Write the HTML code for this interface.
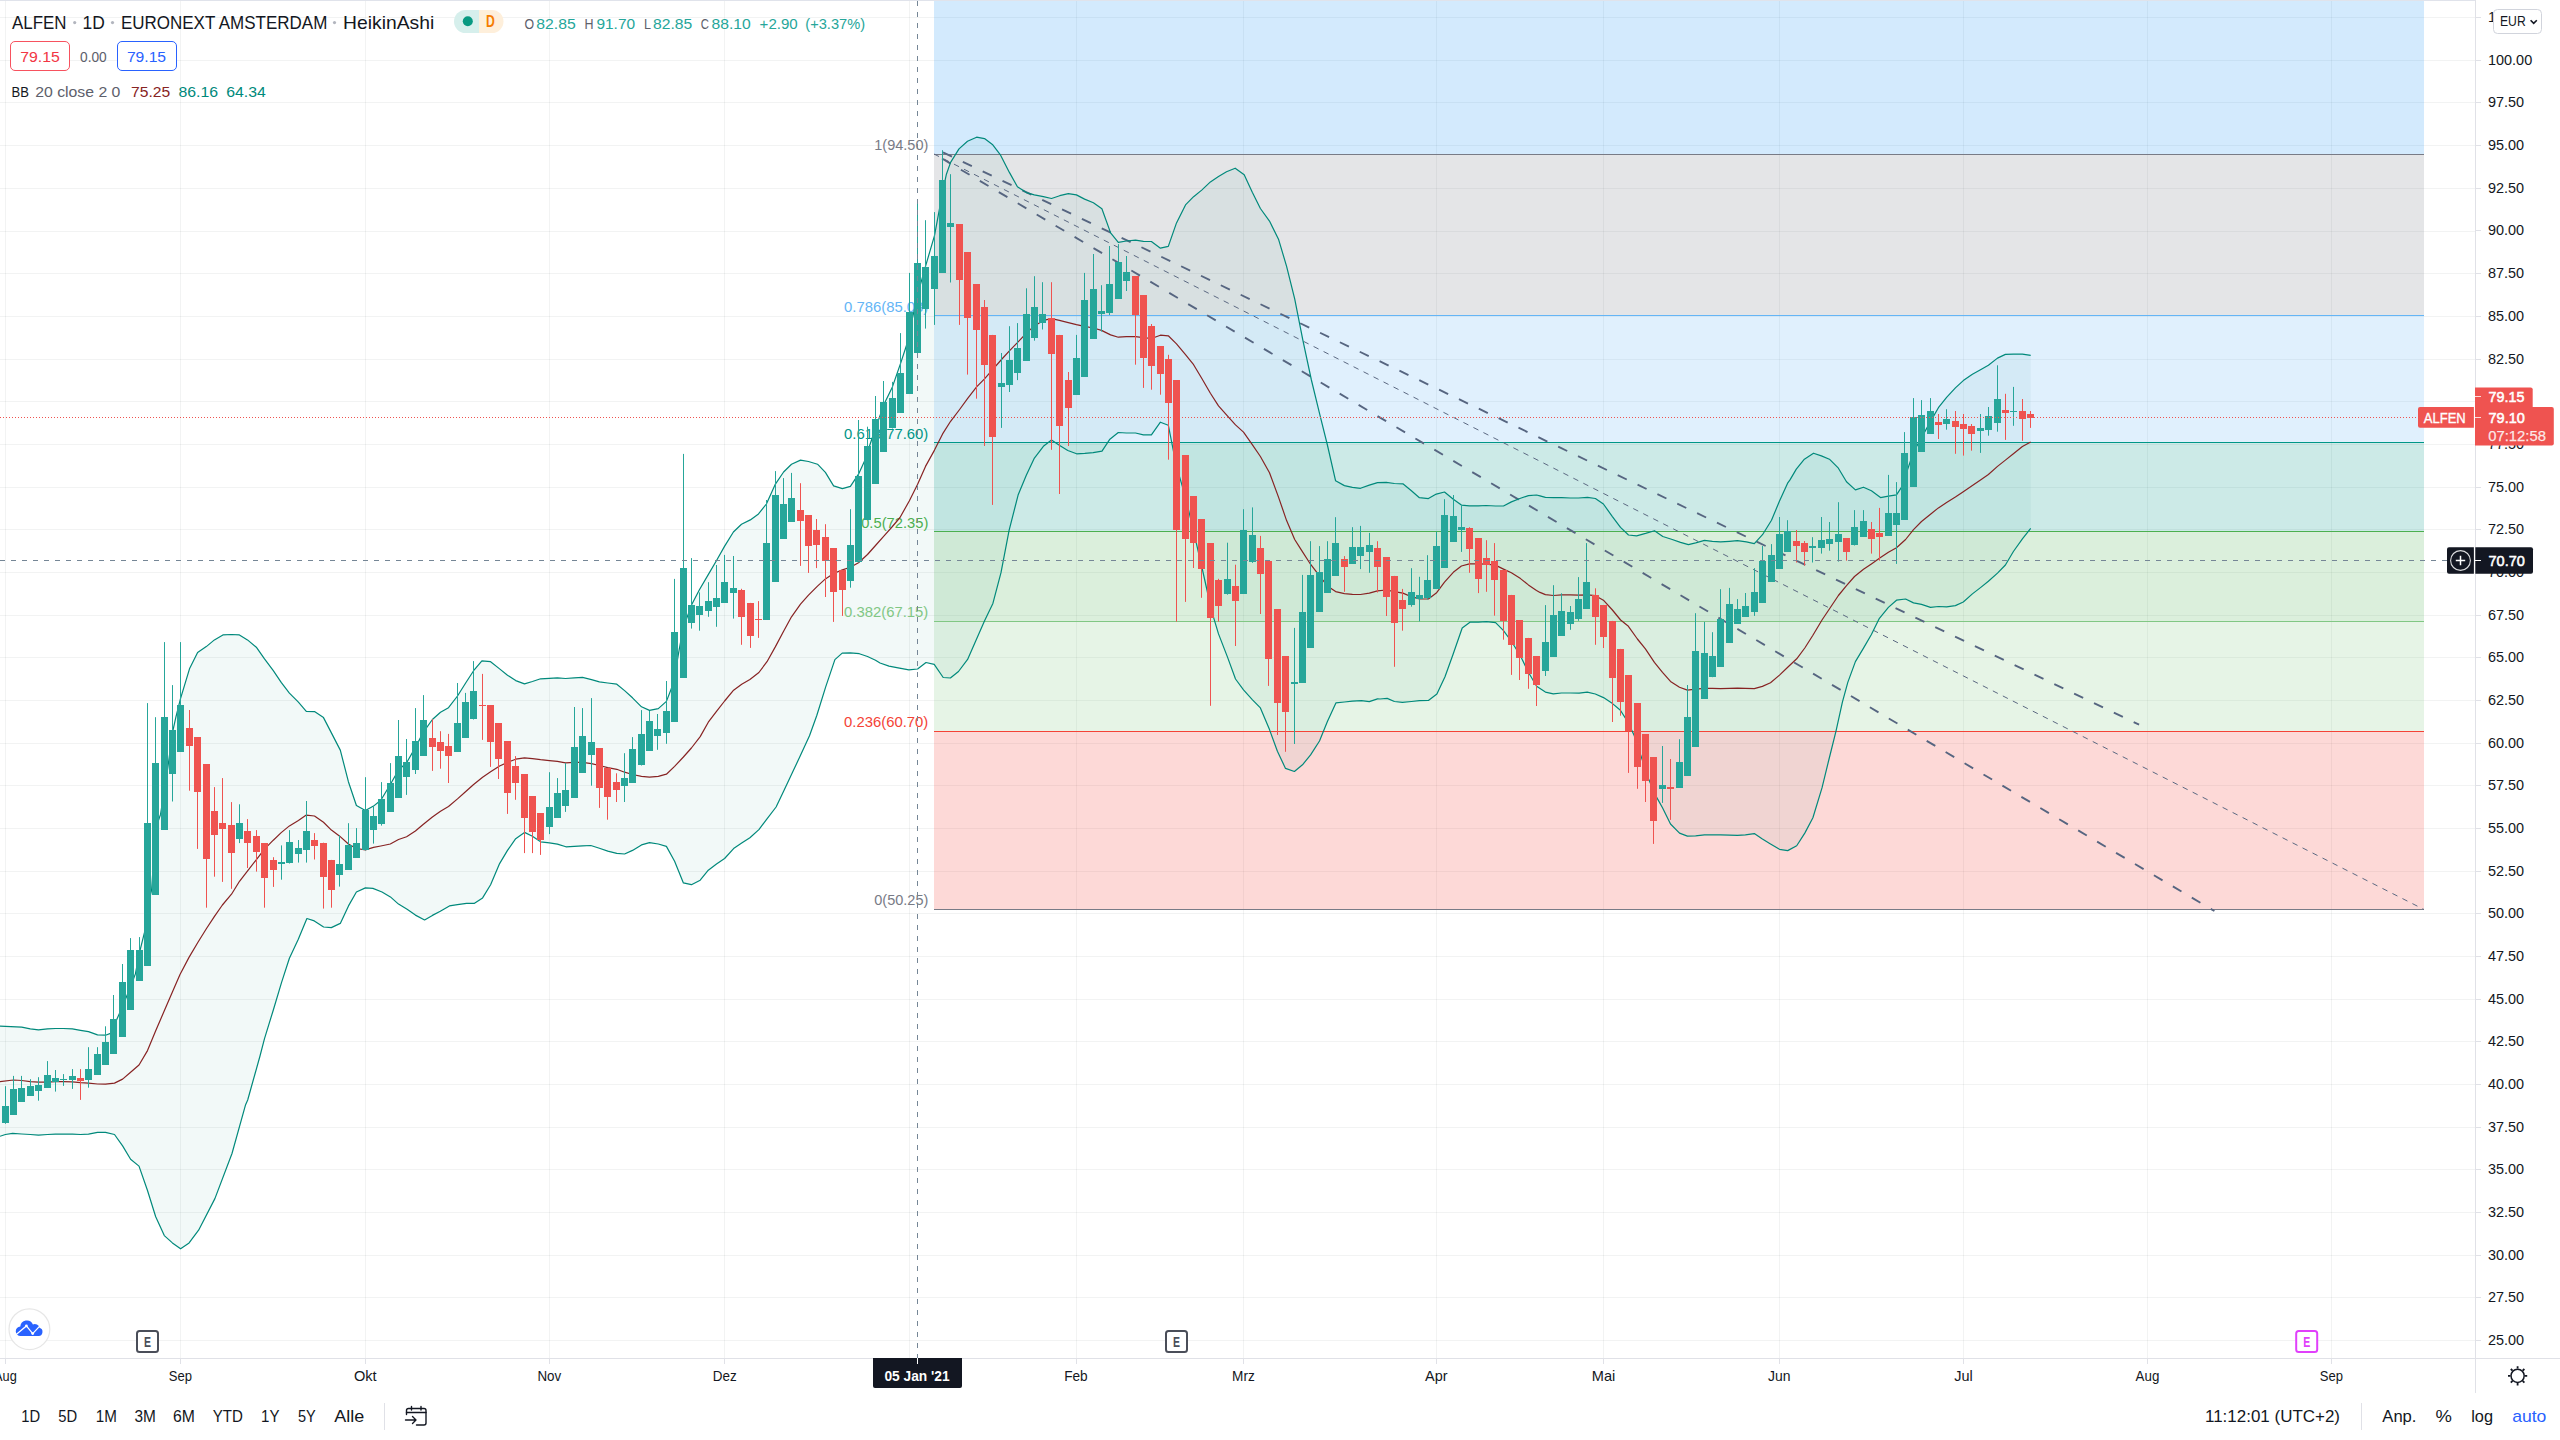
<!DOCTYPE html>
<html><head><meta charset="utf-8"><title>ALFEN</title>
<style>html,body{margin:0;padding:0;background:#fff;overflow:hidden}svg{display:block}</style></head>
<body>
<svg width="2560" height="1440" viewBox="0 0 2560 1440" font-family="Liberation Sans, sans-serif">
<defs><clipPath id="pane"><rect x="0" y="0" width="2475" height="1358"/></clipPath></defs>
<rect width="2560" height="1440" fill="#fff"/>
<g clip-path="url(#pane)">
<path d="M5.5,0V1358 M180.5,0V1358 M365.5,0V1358 M549.5,0V1358 M724.5,0V1358 M909.5,0V1358 M1076.5,0V1358 M1243.5,0V1358 M1436.5,0V1358 M1603.5,0V1358 M1779.5,0V1358 M1963.5,0V1358 M2147.5,0V1358 M2331.5,0V1358" stroke="#2a2e39" stroke-opacity="0.06" stroke-width="1" fill="none"/>
<path d="M0,17.5H2475 M0,60.5H2475 M0,102.5H2475 M0,145.5H2475 M0,188.5H2475 M0,231.5H2475 M0,273.5H2475 M0,316.5H2475 M0,359.5H2475 M0,401.5H2475 M0,444.5H2475 M0,487.5H2475 M0,529.5H2475 M0,572.5H2475 M0,615.5H2475 M0,657.5H2475 M0,700.5H2475 M0,743.5H2475 M0,785.5H2475 M0,828.5H2475 M0,871.5H2475 M0,913.5H2475 M0,956.5H2475 M0,999.5H2475 M0,1041.5H2475 M0,1084.5H2475 M0,1127.5H2475 M0,1169.5H2475 M0,1212.5H2475 M0,1255.5H2475 M0,1297.5H2475 M0,1340.5H2475 M0,1383.5H2475" stroke="#2a2e39" stroke-opacity="0.06" stroke-width="1" fill="none"/>
<rect x="934" y="0.0" width="1490" height="154.5" fill="#2196f3" fill-opacity="0.2"/>
<rect x="934" y="154.5" width="1490" height="161.0" fill="#787b86" fill-opacity="0.2"/>
<rect x="934" y="315.5" width="1490" height="127.0" fill="#64b5f6" fill-opacity="0.2"/>
<rect x="934" y="442.5" width="1490" height="89.0" fill="#009688" fill-opacity="0.2"/>
<rect x="934" y="531.5" width="1490" height="90.0" fill="#4caf50" fill-opacity="0.2"/>
<rect x="934" y="621.5" width="1490" height="110.0" fill="#81c784" fill-opacity="0.2"/>
<rect x="934" y="731.5" width="1490" height="178.0" fill="#f44336" fill-opacity="0.2"/>
<path d="M0.0,1026.2 L10.8,1026.7 L21.7,1027.1 L30.3,1028.9 L38.5,1029.8 L47.5,1028.9 L55.4,1028.5 L63.4,1028.5 L72.4,1028.9 L80.5,1030.3 L88.5,1031.6 L97.5,1034.9 L105.5,1035.2 L110.5,1033.4 L114.5,1024.5 L122.6,1006.4 L130.6,986.5 L135.4,973.9 L139.6,952.2 L144.5,932.4 L147.5,907.1 L151.6,890.0 L155.6,828.6 L160.6,814.2 L167.9,767.2 L172.4,732.9 L176.0,716.7 L180.5,698.6 L189.5,668.8 L197.6,652.6 L206.3,646.6 L214.4,639.9 L222.9,634.9 L231.4,634.5 L239.4,634.9 L247.5,639.9 L256.3,647.2 L264.5,658.9 L273.3,670.6 L281.2,682.4 L289.4,693.2 L298.4,702.2 L306.3,711.3 L314.5,711.6 L323.5,717.6 L331.4,732.9 L340.3,750.1 L348.4,781.7 L356.4,805.5 L365.4,810.6 L373.5,806.1 L380.8,800.2 L390.3,784.5 L398.5,770.0 L406.6,762.8 L415.4,747.4 L423.4,732.1 L432.4,719.5 L440.5,712.2 L448.5,707.7 L457.5,696.0 L465.5,683.3 L473.6,670.7 L481.9,660.8 L490.6,661.7 L499.6,668.9 L507.5,675.2 L515.7,680.6 L524.5,683.9 L532.4,681.5 L540.6,678.8 L549.4,678.3 L557.4,677.9 L565.5,678.5 L574.3,677.9 L582.5,677.4 L591.5,679.7 L599.4,681.9 L607.8,683.0 L616.8,684.2 L624.6,690.6 L632.5,697.8 L641.5,706.8 L649.5,710.4 L658.3,708.6 L666.4,701.4 L671.3,688.8 L674.6,676.1 L679.1,650.1 L683.3,627.7 L691.5,605.1 L699.4,589.7 L708.4,574.4 L716.4,560.8 L724.5,546.4 L733.4,532.0 L741.5,524.2 L750.3,519.9 L758.5,513.9 L766.4,504.0 L775.4,484.1 L783.6,472.0 L791.5,464.2 L800.5,460.1 L808.5,461.5 L817.5,464.2 L825.4,472.4 L833.6,485.9 L842.4,488.6 L850.4,486.4 L858.5,474.2 L864.8,460.6 L867.5,452.0 L875.4,428.5 L884.5,403.2 L892.4,386.9 L900.5,363.6 L906.7,344.7 L917.5,295.2 L925.5,266.3 L934.5,235.6 L942.6,192.2 L946.4,174.2 L950.6,162.4 L959.0,148.9 L967.5,141.3 L976.6,137.2 L984.5,138.6 L992.4,144.4 L1000.6,155.2 L1009.4,172.4 L1017.4,186.8 L1026.4,192.6 L1034.3,194.9 L1043.4,196.7 L1051.5,198.5 L1059.7,195.7 L1068.3,193.7 L1076.4,194.9 L1084.6,199.1 L1093.4,202.7 L1101.9,208.8 L1110.6,232.9 L1118.3,242.4 L1126.4,241.0 L1135.5,240.1 L1143.4,241.3 L1151.4,241.5 L1160.4,248.2 L1168.3,246.4 L1176.5,222.9 L1185.5,204.9 L1193.6,196.7 L1201.7,190.1 L1210.4,181.9 L1218.5,176.5 L1226.5,171.8 L1235.2,168.2 L1244.2,174.7 L1252.3,192.2 L1260.4,208.5 L1269.5,221.1 L1278.5,239.2 L1286.6,266.3 L1294.7,298.8 L1302.9,340.3 L1311.4,380.0 L1319.7,414.2 L1327.4,445.0 L1335.6,480.8 L1344.4,485.6 L1352.4,487.4 L1360.5,488.3 L1369.3,485.1 L1377.5,482.6 L1386.3,482.4 L1394.4,483.5 L1402.9,483.8 L1411.4,490.7 L1419.4,497.7 L1428.4,498.6 L1436.3,494.1 L1444.5,492.0 L1453.3,499.2 L1461.4,505.1 L1469.4,505.9 L1478.4,505.9 L1486.3,505.5 L1495.4,506.0 L1503.5,506.0 L1511.4,501.9 L1520.5,498.3 L1528.4,495.6 L1536.5,495.0 L1540.0,495.8 L1545.4,497.3 L1553.5,497.6 L1561.7,497.6 L1570.3,498.0 L1578.5,498.0 L1587.5,497.3 L1595.4,498.5 L1603.4,504.0 L1612.4,516.6 L1620.5,527.4 L1628.5,535.0 L1636.6,535.9 L1645.6,533.4 L1654.5,530.7 L1662.8,536.5 L1671.5,539.2 L1680.5,542.4 L1688.4,544.6 L1695.7,542.8 L1704.5,540.4 L1712.4,541.3 L1720.6,541.9 L1729.4,541.3 L1737.4,540.6 L1746.4,541.9 L1754.3,543.7 L1762.5,534.7 L1771.5,520.2 L1779.4,501.3 L1787.6,483.2 L1790.0,479.9 L1796.3,469.1 L1804.4,459.2 L1813.5,453.2 L1821.4,455.9 L1829.4,459.2 L1838.4,468.2 L1846.5,481.7 L1855.4,489.9 L1863.5,487.2 L1871.4,490.8 L1880.5,497.6 L1888.4,496.2 L1896.5,494.9 L1901.6,487.2 L1905.6,475.4 L1913.5,452.0 L1923.6,433.9 L1932.7,417.6 L1938.4,407.7 L1946.6,397.4 L1955.4,387.9 L1963.3,380.6 L1972.4,374.3 L1980.5,369.8 L1988.4,365.3 L1997.5,358.1 L2005.4,354.4 L2013.4,354.1 L2022.4,354.1 L2030.7,355.3 L2030.7,528.3 L2022.4,538.8 L2013.4,551.5 L2005.4,565.0 L1997.5,573.1 L1988.4,581.3 L1980.5,587.6 L1972.4,593.9 L1963.3,602.0 L1955.4,605.6 L1946.6,606.9 L1938.4,606.5 L1930.5,607.4 L1921.5,604.4 L1913.5,602.9 L1905.6,599.0 L1896.5,600.2 L1888.4,607.4 L1879.4,618.3 L1871.4,634.5 L1863.5,648.1 L1855.4,661.6 L1847.8,682.4 L1842.4,702.2 L1836.0,731.1 L1828.8,760.0 L1822.0,787.9 L1812.9,817.7 L1804.8,833.1 L1796.7,845.7 L1787.7,850.6 L1779.5,849.3 L1770.5,843.9 L1762.4,839.0 L1754.3,833.6 L1745.4,834.9 L1737.5,835.4 L1729.5,835.2 L1720.5,834.9 L1712.4,834.9 L1704.4,834.9 L1695.6,835.8 L1687.4,836.1 L1679.5,833.1 L1670.5,824.0 L1662.5,807.8 L1658.5,800.6 L1654.4,793.3 L1648.6,778.9 L1641.4,757.2 L1634.2,735.6 L1628.4,722.9 L1620.4,710.3 L1612.5,703.6 L1603.5,697.6 L1595.3,694.0 L1587.2,692.2 L1579.2,693.2 L1570.5,693.0 L1561.5,693.0 L1553.3,693.9 L1545.4,692.1 L1536.6,686.3 L1528.4,672.2 L1520.5,656.0 L1511.5,641.5 L1503.5,630.7 L1495.6,622.6 L1486.5,621.7 L1478.4,622.2 L1470.3,622.0 L1462.2,628.0 L1453.1,654.2 L1445.0,676.7 L1436.9,693.9 L1428.4,700.4 L1419.4,700.6 L1411.4,701.5 L1402.4,702.4 L1394.4,701.5 L1387.2,698.4 L1380.0,699.0 L1377.5,698.9 L1369.3,701.6 L1361.4,700.7 L1352.4,701.2 L1344.4,702.0 L1335.9,702.9 L1327.4,721.5 L1319.5,741.0 L1310.6,754.9 L1302.5,764.8 L1294.4,771.5 L1285.5,768.4 L1277.4,751.3 L1269.5,729.6 L1260.4,707.9 L1252.5,699.8 L1243.5,689.9 L1235.5,679.0 L1227.6,657.4 L1218.5,633.9 L1210.4,606.8 L1207.2,591.0 L1202.5,570.0 L1193.6,531.4 L1185.5,497.1 L1176.5,466.4 L1172.9,448.3 L1168.3,425.2 L1160.4,422.2 L1151.4,434.8 L1143.4,434.8 L1135.5,433.0 L1126.4,433.0 L1118.3,432.5 L1109.9,439.2 L1102.0,451.1 L1093.2,452.6 L1084.8,453.4 L1076.6,453.8 L1067.8,450.5 L1059.7,445.4 L1051.5,440.0 L1043.4,446.3 L1034.4,458.1 L1026.3,475.2 L1018.1,495.1 L1009.1,530.3 L1001.0,572.7 L992.9,603.4 L984.7,620.6 L975.7,641.0 L967.6,659.4 L958.5,671.5 L950.4,678.0 L943.2,677.5 L934.2,664.3 L926.0,662.5 L917.6,669.0 L908.9,669.9 L898.1,667.9 L889.0,666.1 L880.0,663.0 L875.5,660.2 L867.5,656.5 L859.3,653.7 L850.2,652.8 L842.2,653.1 L834.9,659.6 L825.7,686.9 L816.7,715.8 L809.5,735.7 L800.4,755.6 L792.3,772.7 L784.2,789.9 L776.1,807.0 L767.0,818.8 L758.9,829.6 L749.9,837.7 L741.7,843.1 L733.6,848.6 L724.6,858.5 L716.5,863.9 L708.3,870.2 L700.2,880.2 L691.4,884.7 L683.4,882.9 L674.6,861.2 L666.4,846.4 L658.3,844.0 L649.5,842.6 L641.5,844.9 L632.5,850.4 L624.6,854.0 L616.8,853.4 L607.8,851.1 L599.4,848.3 L590.8,845.5 L582.5,845.9 L574.3,846.3 L565.9,846.8 L557.4,844.1 L549.4,842.8 L540.6,841.8 L532.4,836.3 L524.5,832.4 L515.7,838.7 L507.5,850.4 L499.6,863.6 L490.6,884.7 L482.6,897.9 L474.5,903.3 L466.5,903.3 L457.5,904.6 L449.4,905.9 L440.3,911.3 L432.4,915.4 L424.6,920.0 L415.4,915.1 L407.1,909.3 L398.5,904.1 L390.4,896.9 L382.0,892.0 L372.9,888.4 L365.4,887.9 L356.4,892.0 L348.5,905.9 L340.3,923.4 L331.3,927.6 L323.6,927.0 L314.3,920.9 L306.9,918.5 L298.3,939.3 L289.4,958.3 L281.5,982.7 L273.4,1009.7 L264.5,1038.6 L260.0,1056.0 L247.7,1100.0 L245.6,1104.7 L232.0,1153.5 L214.9,1198.6 L198.6,1230.2 L189.1,1242.9 L180.6,1248.8 L172.4,1242.9 L164.3,1235.6 L155.7,1216.7 L147.5,1190.5 L139.0,1166.1 L130.6,1159.3 L122.6,1145.9 L114.5,1134.5 L105.5,1132.4 L97.5,1132.4 L88.5,1134.2 L80.5,1134.5 L72.4,1134.2 L63.4,1134.0 L55.4,1134.2 L47.5,1134.5 L38.5,1135.1 L30.3,1134.5 L21.7,1134.0 L12.6,1133.3 L5.4,1134.5 L0.0,1136.3Z" fill="#00897b" fill-opacity="0.05" stroke="none"/>
<path d="M934,154.5H2424" stroke="#787b86" stroke-width="1"/>
<path d="M934,315.5H2424" stroke="#64b5f6" stroke-width="1"/>
<path d="M934,442.5H2424" stroke="#009688" stroke-width="1"/>
<path d="M934,531.5H2424" stroke="#4caf50" stroke-width="1"/>
<path d="M934,621.5H2424" stroke="#81c784" stroke-width="1"/>
<path d="M934,731.5H2424" stroke="#f44336" stroke-width="1"/>
<path d="M934,909.5H2424" stroke="#787b86" stroke-width="1"/>
<text x="874.3" y="150.1" font-size="14.6" fill="#787b86" textLength="54.0" lengthAdjust="spacingAndGlyphs">1(94.50)</text>
<text x="844.0" y="311.7" font-size="14.6" fill="#64b5f6" textLength="84.3" lengthAdjust="spacingAndGlyphs">0.786(85.03)</text>
<text x="844.0" y="438.6" font-size="14.6" fill="#009688" textLength="84.3" lengthAdjust="spacingAndGlyphs">0.618(77.60)</text>
<text x="861.2" y="528.2" font-size="14.6" fill="#4caf50" textLength="67.1" lengthAdjust="spacingAndGlyphs">0.5(72.35)</text>
<text x="844.0" y="616.9" font-size="14.6" fill="#81c784" textLength="84.3" lengthAdjust="spacingAndGlyphs">0.382(67.15)</text>
<text x="844.0" y="727.1" font-size="14.6" fill="#f44336" textLength="84.3" lengthAdjust="spacingAndGlyphs">0.236(60.70)</text>
<text x="874.3" y="905.4" font-size="14.6" fill="#787b86" textLength="54.0" lengthAdjust="spacingAndGlyphs">0(50.25)</text>
<path d="M943,152.3 L2139.1,724.7" stroke="#566580" stroke-width="1.9" stroke-dasharray="10 12" fill="none"/>
<path d="M942,158.5 L2214.4,911" stroke="#566580" stroke-width="1.9" stroke-dasharray="10 12" fill="none"/>
<path d="M934,154 L2424,909.5" stroke="#5c6982" stroke-width="1" stroke-dasharray="5.6 5.6" fill="none"/>
<path d="M0.0,1026.2 L10.8,1026.7 L21.7,1027.1 L30.3,1028.9 L38.5,1029.8 L47.5,1028.9 L55.4,1028.5 L63.4,1028.5 L72.4,1028.9 L80.5,1030.3 L88.5,1031.6 L97.5,1034.9 L105.5,1035.2 L110.5,1033.4 L114.5,1024.5 L122.6,1006.4 L130.6,986.5 L135.4,973.9 L139.6,952.2 L144.5,932.4 L147.5,907.1 L151.6,890.0 L155.6,828.6 L160.6,814.2 L167.9,767.2 L172.4,732.9 L176.0,716.7 L180.5,698.6 L189.5,668.8 L197.6,652.6 L206.3,646.6 L214.4,639.9 L222.9,634.9 L231.4,634.5 L239.4,634.9 L247.5,639.9 L256.3,647.2 L264.5,658.9 L273.3,670.6 L281.2,682.4 L289.4,693.2 L298.4,702.2 L306.3,711.3 L314.5,711.6 L323.5,717.6 L331.4,732.9 L340.3,750.1 L348.4,781.7 L356.4,805.5 L365.4,810.6 L373.5,806.1 L380.8,800.2 L390.3,784.5 L398.5,770.0 L406.6,762.8 L415.4,747.4 L423.4,732.1 L432.4,719.5 L440.5,712.2 L448.5,707.7 L457.5,696.0 L465.5,683.3 L473.6,670.7 L481.9,660.8 L490.6,661.7 L499.6,668.9 L507.5,675.2 L515.7,680.6 L524.5,683.9 L532.4,681.5 L540.6,678.8 L549.4,678.3 L557.4,677.9 L565.5,678.5 L574.3,677.9 L582.5,677.4 L591.5,679.7 L599.4,681.9 L607.8,683.0 L616.8,684.2 L624.6,690.6 L632.5,697.8 L641.5,706.8 L649.5,710.4 L658.3,708.6 L666.4,701.4 L671.3,688.8 L674.6,676.1 L679.1,650.1 L683.3,627.7 L691.5,605.1 L699.4,589.7 L708.4,574.4 L716.4,560.8 L724.5,546.4 L733.4,532.0 L741.5,524.2 L750.3,519.9 L758.5,513.9 L766.4,504.0 L775.4,484.1 L783.6,472.0 L791.5,464.2 L800.5,460.1 L808.5,461.5 L817.5,464.2 L825.4,472.4 L833.6,485.9 L842.4,488.6 L850.4,486.4 L858.5,474.2 L864.8,460.6 L867.5,452.0 L875.4,428.5 L884.5,403.2 L892.4,386.9 L900.5,363.6 L906.7,344.7 L917.5,295.2 L925.5,266.3 L934.5,235.6 L942.6,192.2 L946.4,174.2 L950.6,162.4 L959.0,148.9 L967.5,141.3 L976.6,137.2 L984.5,138.6 L992.4,144.4 L1000.6,155.2 L1009.4,172.4 L1017.4,186.8 L1026.4,192.6 L1034.3,194.9 L1043.4,196.7 L1051.5,198.5 L1059.7,195.7 L1068.3,193.7 L1076.4,194.9 L1084.6,199.1 L1093.4,202.7 L1101.9,208.8 L1110.6,232.9 L1118.3,242.4 L1126.4,241.0 L1135.5,240.1 L1143.4,241.3 L1151.4,241.5 L1160.4,248.2 L1168.3,246.4 L1176.5,222.9 L1185.5,204.9 L1193.6,196.7 L1201.7,190.1 L1210.4,181.9 L1218.5,176.5 L1226.5,171.8 L1235.2,168.2 L1244.2,174.7 L1252.3,192.2 L1260.4,208.5 L1269.5,221.1 L1278.5,239.2 L1286.6,266.3 L1294.7,298.8 L1302.9,340.3 L1311.4,380.0 L1319.7,414.2 L1327.4,445.0 L1335.6,480.8 L1344.4,485.6 L1352.4,487.4 L1360.5,488.3 L1369.3,485.1 L1377.5,482.6 L1386.3,482.4 L1394.4,483.5 L1402.9,483.8 L1411.4,490.7 L1419.4,497.7 L1428.4,498.6 L1436.3,494.1 L1444.5,492.0 L1453.3,499.2 L1461.4,505.1 L1469.4,505.9 L1478.4,505.9 L1486.3,505.5 L1495.4,506.0 L1503.5,506.0 L1511.4,501.9 L1520.5,498.3 L1528.4,495.6 L1536.5,495.0 L1540.0,495.8 L1545.4,497.3 L1553.5,497.6 L1561.7,497.6 L1570.3,498.0 L1578.5,498.0 L1587.5,497.3 L1595.4,498.5 L1603.4,504.0 L1612.4,516.6 L1620.5,527.4 L1628.5,535.0 L1636.6,535.9 L1645.6,533.4 L1654.5,530.7 L1662.8,536.5 L1671.5,539.2 L1680.5,542.4 L1688.4,544.6 L1695.7,542.8 L1704.5,540.4 L1712.4,541.3 L1720.6,541.9 L1729.4,541.3 L1737.4,540.6 L1746.4,541.9 L1754.3,543.7 L1762.5,534.7 L1771.5,520.2 L1779.4,501.3 L1787.6,483.2 L1790.0,479.9 L1796.3,469.1 L1804.4,459.2 L1813.5,453.2 L1821.4,455.9 L1829.4,459.2 L1838.4,468.2 L1846.5,481.7 L1855.4,489.9 L1863.5,487.2 L1871.4,490.8 L1880.5,497.6 L1888.4,496.2 L1896.5,494.9 L1901.6,487.2 L1905.6,475.4 L1913.5,452.0 L1923.6,433.9 L1932.7,417.6 L1938.4,407.7 L1946.6,397.4 L1955.4,387.9 L1963.3,380.6 L1972.4,374.3 L1980.5,369.8 L1988.4,365.3 L1997.5,358.1 L2005.4,354.4 L2013.4,354.1 L2022.4,354.1 L2030.7,355.3" fill="none" stroke="#00897b" stroke-width="1.2" stroke-linejoin="round"/>
<path d="M0.0,1136.3 L5.4,1134.5 L12.6,1133.3 L21.7,1134.0 L30.3,1134.5 L38.5,1135.1 L47.5,1134.5 L55.4,1134.2 L63.4,1134.0 L72.4,1134.2 L80.5,1134.5 L88.5,1134.2 L97.5,1132.4 L105.5,1132.4 L114.5,1134.5 L122.6,1145.9 L130.6,1159.3 L139.0,1166.1 L147.5,1190.5 L155.7,1216.7 L164.3,1235.6 L172.4,1242.9 L180.6,1248.8 L189.1,1242.9 L198.6,1230.2 L214.9,1198.6 L232.0,1153.5 L245.6,1104.7 L247.7,1100.0 L260.0,1056.0 L264.5,1038.6 L273.4,1009.7 L281.5,982.7 L289.4,958.3 L298.3,939.3 L306.9,918.5 L314.3,920.9 L323.6,927.0 L331.3,927.6 L340.3,923.4 L348.5,905.9 L356.4,892.0 L365.4,887.9 L372.9,888.4 L382.0,892.0 L390.4,896.9 L398.5,904.1 L407.1,909.3 L415.4,915.1 L424.6,920.0 L432.4,915.4 L440.3,911.3 L449.4,905.9 L457.5,904.6 L466.5,903.3 L474.5,903.3 L482.6,897.9 L490.6,884.7 L499.6,863.6 L507.5,850.4 L515.7,838.7 L524.5,832.4 L532.4,836.3 L540.6,841.8 L549.4,842.8 L557.4,844.1 L565.9,846.8 L574.3,846.3 L582.5,845.9 L590.8,845.5 L599.4,848.3 L607.8,851.1 L616.8,853.4 L624.6,854.0 L632.5,850.4 L641.5,844.9 L649.5,842.6 L658.3,844.0 L666.4,846.4 L674.6,861.2 L683.4,882.9 L691.4,884.7 L700.2,880.2 L708.3,870.2 L716.5,863.9 L724.6,858.5 L733.6,848.6 L741.7,843.1 L749.9,837.7 L758.9,829.6 L767.0,818.8 L776.1,807.0 L784.2,789.9 L792.3,772.7 L800.4,755.6 L809.5,735.7 L816.7,715.8 L825.7,686.9 L834.9,659.6 L842.2,653.1 L850.2,652.8 L859.3,653.7 L867.5,656.5 L875.5,660.2 L880.0,663.0 L889.0,666.1 L898.1,667.9 L908.9,669.9 L917.6,669.0 L926.0,662.5 L934.2,664.3 L943.2,677.5 L950.4,678.0 L958.5,671.5 L967.6,659.4 L975.7,641.0 L984.7,620.6 L992.9,603.4 L1001.0,572.7 L1009.1,530.3 L1018.1,495.1 L1026.3,475.2 L1034.4,458.1 L1043.4,446.3 L1051.5,440.0 L1059.7,445.4 L1067.8,450.5 L1076.6,453.8 L1084.8,453.4 L1093.2,452.6 L1102.0,451.1 L1109.9,439.2 L1118.3,432.5 L1126.4,433.0 L1135.5,433.0 L1143.4,434.8 L1151.4,434.8 L1160.4,422.2 L1168.3,425.2 L1172.9,448.3 L1176.5,466.4 L1185.5,497.1 L1193.6,531.4 L1202.5,570.0 L1207.2,591.0 L1210.4,606.8 L1218.5,633.9 L1227.6,657.4 L1235.5,679.0 L1243.5,689.9 L1252.5,699.8 L1260.4,707.9 L1269.5,729.6 L1277.4,751.3 L1285.5,768.4 L1294.4,771.5 L1302.5,764.8 L1310.6,754.9 L1319.5,741.0 L1327.4,721.5 L1335.9,702.9 L1344.4,702.0 L1352.4,701.2 L1361.4,700.7 L1369.3,701.6 L1377.5,698.9 L1380.0,699.0 L1387.2,698.4 L1394.4,701.5 L1402.4,702.4 L1411.4,701.5 L1419.4,700.6 L1428.4,700.4 L1436.9,693.9 L1445.0,676.7 L1453.1,654.2 L1462.2,628.0 L1470.3,622.0 L1478.4,622.2 L1486.5,621.7 L1495.6,622.6 L1503.5,630.7 L1511.5,641.5 L1520.5,656.0 L1528.4,672.2 L1536.6,686.3 L1545.4,692.1 L1553.3,693.9 L1561.5,693.0 L1570.5,693.0 L1579.2,693.2 L1587.2,692.2 L1595.3,694.0 L1603.5,697.6 L1612.5,703.6 L1620.4,710.3 L1628.4,722.9 L1634.2,735.6 L1641.4,757.2 L1648.6,778.9 L1654.4,793.3 L1658.5,800.6 L1662.5,807.8 L1670.5,824.0 L1679.5,833.1 L1687.4,836.1 L1695.6,835.8 L1704.4,834.9 L1712.4,834.9 L1720.5,834.9 L1729.5,835.2 L1737.5,835.4 L1745.4,834.9 L1754.3,833.6 L1762.4,839.0 L1770.5,843.9 L1779.5,849.3 L1787.7,850.6 L1796.7,845.7 L1804.8,833.1 L1812.9,817.7 L1822.0,787.9 L1828.8,760.0 L1836.0,731.1 L1842.4,702.2 L1847.8,682.4 L1855.4,661.6 L1863.5,648.1 L1871.4,634.5 L1879.4,618.3 L1888.4,607.4 L1896.5,600.2 L1905.6,599.0 L1913.5,602.9 L1921.5,604.4 L1930.5,607.4 L1938.4,606.5 L1946.6,606.9 L1955.4,605.6 L1963.3,602.0 L1972.4,593.9 L1980.5,587.6 L1988.4,581.3 L1997.5,573.1 L2005.4,565.0 L2013.4,551.5 L2022.4,538.8 L2030.7,528.3" fill="none" stroke="#00897b" stroke-width="1.2" stroke-linejoin="round"/>
<path d="M0.0,1081.6 L13.5,1080.0 L21.7,1080.5 L30.3,1081.6 L38.5,1082.2 L47.5,1082.2 L55.4,1081.6 L63.4,1081.6 L72.4,1081.8 L80.5,1082.7 L88.5,1083.1 L97.5,1084.0 L105.5,1084.1 L114.5,1083.1 L122.6,1079.1 L130.6,1072.2 L139.0,1065.0 L147.5,1050.6 L155.7,1030.7 L164.3,1010.8 L172.4,992.0 L180.0,974.5 L189.0,957.4 L198.1,942.0 L206.5,928.5 L214.3,916.7 L222.4,905.0 L231.5,894.2 L239.5,881.3 L247.6,870.9 L256.4,859.6 L264.5,849.2 L273.3,840.2 L281.2,832.6 L289.4,825.9 L298.4,820.5 L306.3,815.1 L314.5,816.0 L323.5,822.3 L331.4,830.1 L339.4,835.9 L348.4,844.0 L356.4,848.5 L365.4,849.9 L373.5,847.4 L380.8,846.0 L390.3,844.0 L398.5,839.5 L406.6,836.8 L415.4,831.0 L423.4,824.2 L432.4,817.0 L440.5,811.2 L448.5,806.5 L457.5,798.9 L465.5,791.7 L473.6,784.5 L482.6,777.2 L490.6,771.8 L499.6,766.0 L507.5,762.4 L515.7,759.2 L524.5,757.9 L532.4,758.6 L540.6,759.7 L549.4,760.6 L557.4,761.3 L565.5,762.8 L574.3,762.4 L582.5,762.4 L591.5,763.7 L599.4,765.5 L607.8,767.6 L616.8,769.3 L624.6,772.2 L632.5,774.5 L641.5,776.3 L649.5,777.2 L658.3,776.3 L666.4,774.2 L674.6,766.4 L683.4,757.0 L691.4,748.0 L700.2,736.6 L708.3,722.2 L716.5,711.3 L724.6,701.0 L733.6,690.2 L741.7,684.2 L749.9,679.4 L758.9,672.5 L767.0,661.7 L775.3,646.9 L783.6,631.3 L791.5,616.8 L800.5,604.2 L808.5,595.2 L817.5,586.1 L825.4,578.9 L833.6,573.5 L842.4,569.9 L850.4,567.2 L858.5,562.7 L867.5,554.5 L875.5,545.5 L884.3,535.6 L892.4,526.5 L900.0,517.5 L909.4,500.7 L917.5,484.5 L925.5,466.4 L934.5,450.1 L942.6,433.9 L950.6,421.3 L959.6,409.5 L967.5,398.7 L976.6,386.9 L984.5,378.8 L992.4,369.8 L1001.5,359.5 L1009.4,350.8 L1017.4,342.7 L1026.4,333.1 L1034.3,325.9 L1043.4,320.4 L1051.5,318.6 L1059.4,320.4 L1068.3,322.6 L1076.4,324.6 L1084.6,326.4 L1093.4,328.0 L1101.5,330.4 L1110.6,334.9 L1118.3,337.2 L1126.4,336.7 L1135.5,336.7 L1143.4,337.6 L1151.4,338.5 L1160.4,335.2 L1168.3,335.8 L1176.5,343.9 L1185.5,354.7 L1193.6,364.7 L1201.7,378.2 L1210.4,393.3 L1218.5,405.9 L1227.4,415.8 L1235.5,424.9 L1243.5,432.1 L1252.3,444.7 L1260.4,456.5 L1269.5,472.7 L1278.5,497.1 L1286.6,520.6 L1294.7,539.5 L1300.0,547.9 L1310.5,564.2 L1319.3,575.6 L1327.4,585.9 L1335.6,591.6 L1344.4,593.6 L1352.4,594.3 L1360.5,594.5 L1369.3,593.1 L1377.5,590.9 L1386.3,590.0 L1394.4,591.6 L1402.9,593.1 L1411.4,596.7 L1419.4,598.9 L1428.4,599.0 L1436.3,593.1 L1444.5,582.2 L1453.3,572.3 L1461.4,566.0 L1469.4,563.8 L1478.4,563.8 L1486.3,564.2 L1495.4,565.1 L1503.5,569.1 L1511.4,572.8 L1520.5,578.6 L1528.4,584.9 L1536.5,590.4 L1540.0,592.4 L1545.4,594.6 L1553.5,595.5 L1561.7,594.8 L1570.3,594.8 L1578.5,595.2 L1587.5,594.8 L1595.4,595.7 L1603.4,600.2 L1612.4,610.0 L1620.6,620.0 L1628.4,626.3 L1637.4,639.0 L1645.4,648.9 L1654.4,662.4 L1662.5,672.4 L1670.5,681.4 L1679.5,687.2 L1687.4,690.1 L1695.6,689.2 L1704.4,688.3 L1712.4,688.3 L1720.5,688.6 L1729.5,688.3 L1737.5,688.1 L1745.4,688.3 L1754.3,688.6 L1762.4,686.4 L1770.5,682.8 L1779.5,675.1 L1787.7,667.3 L1796.7,658.8 L1804.8,648.0 L1812.9,635.3 L1822.0,620.0 L1838.4,595.5 L1846.5,585.6 L1854.5,576.5 L1863.5,569.3 L1871.4,563.9 L1880.5,557.6 L1888.4,552.2 L1896.5,547.7 L1905.6,539.5 L1913.5,529.6 L1921.5,521.5 L1930.5,514.3 L1938.4,507.9 L1946.6,502.5 L1955.4,497.1 L1963.3,491.7 L1972.4,485.4 L1980.5,479.9 L1988.4,474.5 L1997.5,466.4 L2005.4,460.1 L2013.4,453.8 L2022.4,446.5 L2030.7,442.0" fill="none" stroke="#872323" stroke-width="1.2" stroke-linejoin="round"/>
<path d="M5.5,1086.2V1123.8 M13.5,1075.9V1114.7 M21.5,1075.9V1101.7 M30.5,1079.2V1095.8 M38.5,1077.2V1100.7 M47.5,1061.1V1087.7 M55.5,1070.0V1091.6 M63.5,1074.1V1085.9 M72.5,1069.1V1088.9 M88.5,1047.2V1087.7 M97.5,1047.2V1075.0 M105.5,1026.3V1064.9 M113.5,995.0V1053.7 M122.5,964.0V1036.7 M130.5,938.1V1009.6 M139.5,937.1V980.8 M147.5,703.1V966.0 M155.5,717.2V894.8 M164.5,642.1V829.5 M172.5,685.1V801.5 M180.5,642.1V751.5 M239.5,804.3V843.1 M281.5,845.4V879.7 M289.5,830.1V863.5 M298.5,840.0V862.6 M306.5,801.0V862.6 M339.5,835.3V886.6 M348.5,823.2V869.8 M356.5,828.1V857.7 M365.5,777.2V850.5 M373.5,806.1V843.6 M381.5,782.1V825.6 M390.5,763.1V811.5 M398.5,720.0V797.6 M406.5,739.0V794.9 M415.5,708.1V774.0 M423.5,695.1V755.6 M457.5,683.0V751.6 M465.5,692.9V737.5 M473.5,661.1V719.5 M549.5,772.2V834.1 M557.5,778.1V817.9 M565.5,763.1V811.9 M574.5,707.0V797.6 M582.5,708.1V772.7 M591.5,698.1V785.7 M624.5,753.2V802.0 M632.5,737.1V782.7 M641.5,710.1V765.5 M649.5,711.0V750.7 M657.5,714.0V749.8 M666.5,681.0V743.8 M674.5,578.9V721.8 M683.5,453.9V677.9 M691.5,558.1V628.6 M699.5,592.4V630.7 M708.5,582.2V616.8 M716.5,565.0V626.8 M724.5,554.9V602.7 M733.5,556.0V618.6 M766.5,500.0V619.9 M775.5,471.1V582.0 M783.5,478.1V538.8 M791.5,472.9V522.0 M850.5,509.2V587.7 M858.5,420.0V562.5 M867.5,426.7V519.7 M875.5,396.0V483.9 M883.5,381.0V452.0 M892.5,381.9V428.5 M900.5,333.1V412.8 M909.5,272.9V393.6 M917.5,203.1V352.9 M925.5,220.2V328.6 M934.5,212.1V324.9 M942.5,150.2V272.9 M950.5,174.2V282.5 M1001.5,353.0V427.9 M1009.5,326.2V392.0 M1017.5,323.1V380.1 M1026.5,288.3V360.8 M1034.5,276.2V340.7 M1042.5,282.2V329.5 M1076.5,334.9V394.7 M1084.5,272.9V376.7 M1093.5,254.0V338.9 M1101.5,285.2V331.6 M1109.5,246.0V315.0 M1118.5,244.1V298.8 M1126.5,256.0V291.0 M1227.5,542.7V594.7 M1243.5,509.2V593.6 M1252.5,507.4V562.9 M1294.5,627.9V744.0 M1302.5,574.9V682.7 M1310.5,541.2V647.8 M1319.5,546.1V611.7 M1327.5,541.2V592.5 M1335.5,517.2V575.6 M1352.5,527.2V563.8 M1360.5,525.9V569.1 M1369.5,532.9V572.8 M1411.5,568.2V606.7 M1419.5,576.8V621.3 M1427.5,555.2V599.4 M1436.5,531.7V588.9 M1444.5,499.2V567.8 M1453.5,495.0V542.0 M1461.5,505.5V551.9 M1545.5,605.1V676.0 M1553.5,585.2V656.5 M1561.5,593.3V635.8 M1570.5,606.0V629.8 M1578.5,577.1V620.8 M1586.5,543.1V608.7 M1662.5,746.0V802.9 M1679.5,739.2V787.9 M1687.5,685.0V775.8 M1695.5,613.2V746.9 M1704.5,621.9V698.9 M1712.5,632.2V677.2 M1720.5,589.2V666.9 M1729.5,587.9V642.9 M1737.5,599.1V623.6 M1745.5,593.0V616.8 M1754.5,568.1V615.9 M1762.5,546.0V602.7 M1771.5,544.1V581.6 M1779.5,517.0V568.6 M1787.5,520.2V551.8 M1812.5,537.2V562.5 M1821.5,517.0V553.6 M1829.5,522.0V550.7 M1838.5,502.2V561.6 M1854.5,510.1V545.5 M1863.5,510.1V536.8 M1888.5,474.9V535.6 M1896.5,482.1V563.9 M1904.5,432.1V519.7 M1913.5,398.1V486.8 M1921.5,400.1V451.6 M1930.5,398.1V433.9 M1946.5,409.2V429.7 M1980.5,414.0V452.9 M1988.5,407.0V435.7 M1997.5,365.3V431.7 M2013.5,386.9V425.8" stroke="#26a69a" stroke-width="1" fill="none"/>
<path d="M80.5,1069.1V1099.9 M189.5,710.0V790.7 M197.5,737.1V848.9 M206.5,764.0V907.7 M214.5,787.1V876.7 M222.5,778.1V881.9 M231.5,802.1V888.8 M247.5,819.1V868.0 M256.5,830.1V871.6 M264.5,843.1V907.7 M273.5,857.2V886.9 M314.5,833.1V859.5 M323.5,842.7V908.6 M331.5,859.9V907.7 M432.5,719.1V770.9 M440.5,731.2V768.7 M448.5,733.9V783.0 M482.5,673.9V739.9 M490.5,705.0V766.9 M498.5,723.1V779.0 M507.5,741.1V813.9 M515.5,756.1V799.8 M524.5,774.0V853.1 M532.5,796.2V853.1 M540.5,813.0V854.9 M599.5,748.0V807.9 M607.5,767.8V819.7 M616.5,773.3V802.0 M741.5,588.8V644.8 M750.5,602.9V647.9 M758.5,601.1V637.9 M800.5,483.2V565.9 M808.5,515.2V572.9 M816.5,519.0V568.1 M825.5,524.2V597.0 M833.5,548.2V621.9 M842.5,569.9V615.9 M959.5,224.2V324.9 M967.5,252.2V374.6 M976.5,284.0V398.7 M984.5,300.0V446.0 M992.5,334.9V504.9 M1051.5,282.2V449.8 M1059.5,334.9V494.0 M1068.5,372.0V446.0 M1135.5,276.2V364.7 M1143.5,295.2V387.9 M1151.5,324.0V389.7 M1160.5,346.0V394.7 M1168.5,354.8V459.7 M1176.5,380.1V621.6 M1185.5,455.0V601.9 M1193.5,496.2V568.0 M1201.5,519.1V597.8 M1210.5,543.1V705.8 M1218.5,578.8V621.6 M1235.5,564.7V646.0 M1260.5,535.9V614.0 M1268.5,561.1V685.9 M1277.5,609.2V735.0 M1285.5,656.1V751.8 M1344.5,556.1V591.8 M1377.5,541.2V592.5 M1386.5,557.0V616.0 M1394.5,575.9V666.8 M1402.5,588.9V630.7 M1469.5,527.2V572.8 M1478.5,538.0V593.1 M1486.5,540.2V591.8 M1494.5,543.1V615.7 M1503.5,570.0V639.7 M1511.5,594.9V674.9 M1519.5,620.2V680.0 M1528.5,637.9V688.8 M1536.5,656.0V706.0 M1595.5,588.3V644.8 M1603.5,605.1V648.0 M1612.5,620.9V722.0 M1620.5,648.9V715.7 M1628.5,675.1V772.9 M1637.5,703.1V788.8 M1645.5,734.1V802.0 M1653.5,757.2V843.9 M1670.5,759.0V819.9 M1796.5,530.0V562.5 M1804.5,541.0V565.7 M1846.5,538.1V560.7 M1871.5,522.0V553.6 M1879.5,507.9V560.7 M1938.5,414.0V439.0 M1955.5,411.0V453.8 M1963.5,414.0V455.6 M1971.5,424.0V450.7 M2005.5,393.8V439.9 M2022.5,399.0V440.8 M2030.5,411.0V427.9" stroke="#ef5350" stroke-width="1" fill="none"/>
<path d="M2,1106h7v17h-7z M10,1089h7v26h-7z M18,1088h7v14h-7z M27,1086h7v10h-7z M35,1085h7v6h-7z M44,1075h7v13h-7z M52,1078h7v4h-7z M60,1079h7v1h-7z M69,1076h7v4h-7z M85,1069h7v11h-7z M94,1054h7v21h-7z M102,1042h7v23h-7z M110,1019h7v35h-7z M119,982h7v55h-7z M127,950h7v60h-7z M136,950h7v31h-7z M144,823h7v143h-7z M152,763h7v132h-7z M161,717h7v113h-7z M169,730h7v44h-7z M177,705h7v47h-7z M236,823h7v16h-7z M278,862h7v2h-7z M286,842h7v21h-7z M295,848h7v6h-7z M303,831h7v19h-7z M336,864h7v11h-7z M345,845h7v25h-7z M353,843h7v15h-7z M362,810h7v40h-7z M370,816h7v14h-7z M378,799h7v25h-7z M387,783h7v29h-7z M395,756h7v42h-7z M403,762h7v15h-7z M412,741h7v29h-7z M420,720h7v36h-7z M454,723h7v29h-7z M462,702h7v36h-7z M470,691h7v28h-7z M546,807h7v20h-7z M554,793h7v25h-7z M562,790h7v16h-7z M571,747h7v51h-7z M579,736h7v37h-7z M588,742h7v13h-7z M621,778h7v8h-7z M629,749h7v34h-7z M638,734h7v31h-7z M646,721h7v30h-7z M654,729h7v7h-7z M663,711h7v22h-7z M671,632h7v90h-7z M680,568h7v110h-7z M688,605h7v18h-7z M696,606h7v9h-7z M705,601h7v10h-7z M713,598h7v9h-7z M721,582h7v21h-7z M730,588h7v5h-7z M763,543h7v77h-7z M772,495h7v87h-7z M780,504h7v35h-7z M788,498h7v24h-7z M847,545h7v36h-7z M855,476h7v86h-7z M864,446h7v74h-7z M872,419h7v65h-7z M880,402h7v50h-7z M889,398h7v30h-7z M897,373h7v40h-7z M906,312h7v82h-7z M914,263h7v90h-7z M922,267h7v42h-7z M931,256h7v33h-7z M939,180h7v93h-7z M947,223h7v4h-7z M998,383h7v4h-7z M1006,360h7v25h-7z M1014,348h7v25h-7z M1023,314h7v47h-7z M1031,307h7v31h-7z M1039,314h7v9h-7z M1073,358h7v37h-7z M1081,300h7v77h-7z M1090,289h7v50h-7z M1098,311h7v3h-7z M1106,284h7v29h-7z M1115,262h7v37h-7z M1123,272h7v9h-7z M1224,579h7v15h-7z M1240,530h7v64h-7z M1249,535h7v27h-7z M1291,682h7v2h-7z M1299,612h7v71h-7z M1307,575h7v73h-7z M1316,572h7v40h-7z M1324,559h7v34h-7z M1332,543h7v33h-7z M1349,547h7v17h-7z M1357,547h7v9h-7z M1366,545h7v7h-7z M1408,592h7v13h-7z M1416,595h7v4h-7z M1424,580h7v18h-7z M1433,546h7v43h-7z M1441,515h7v53h-7z M1450,516h7v26h-7z M1458,527h7v3h-7z M1542,642h7v29h-7z M1550,615h7v42h-7z M1558,611h7v25h-7z M1567,612h7v12h-7z M1575,599h7v20h-7z M1583,582h7v27h-7z M1659,785h7v4h-7z M1676,762h7v26h-7z M1684,717h7v59h-7z M1692,651h7v96h-7z M1701,653h7v46h-7z M1709,656h7v21h-7z M1717,619h7v48h-7z M1726,604h7v39h-7z M1734,609h7v15h-7z M1742,606h7v11h-7z M1751,592h7v20h-7z M1759,561h7v42h-7z M1768,555h7v27h-7z M1776,534h7v35h-7z M1784,531h7v21h-7z M1809,546h7v2h-7z M1818,540h7v8h-7z M1826,539h7v5h-7z M1835,534h7v8h-7z M1851,527h7v18h-7z M1860,521h7v16h-7z M1885,513h7v23h-7z M1893,513h7v12h-7z M1901,453h7v67h-7z M1910,417h7v70h-7z M1918,415h7v37h-7z M1927,411h7v23h-7z M1943,419h7v5h-7z M1977,428h7v3h-7z M1985,416h7v14h-7z M1994,399h7v24h-7z M2010,411h7v1h-7z" fill="#26a69a"/>
<path d="M77,1078h7v3h-7z M186,728h7v18h-7z M194,737h7v55h-7z M203,764h7v95h-7z M211,811h7v24h-7z M219,823h7v6h-7z M228,825h7v28h-7z M244,831h7v12h-7z M253,836h7v16h-7z M261,843h7v35h-7z M270,860h7v10h-7z M311,840h7v6h-7z M320,843h7v34h-7z M328,860h7v30h-7z M429,738h7v9h-7z M437,742h7v9h-7z M445,746h7v10h-7z M479,705h7v1h-7z M487,705h7v37h-7z M495,723h7v36h-7z M504,741h7v52h-7z M512,766h7v17h-7z M521,774h7v44h-7z M529,796h7v36h-7z M537,813h7v27h-7z M596,748h7v40h-7z M604,768h7v29h-7z M613,782h7v8h-7z M738,590h7v27h-7z M747,603h7v33h-7z M755,619h7v1h-7z M797,510h7v11h-7z M805,515h7v31h-7z M813,530h7v15h-7z M822,537h7v24h-7z M830,548h7v44h-7z M839,570h7v20h-7z M956,224h7v56h-7z M964,252h7v66h-7z M973,284h7v46h-7z M981,307h7v58h-7z M989,335h7v102h-7z M1048,318h7v36h-7z M1056,335h7v91h-7z M1065,380h7v28h-7z M1132,276h7v39h-7z M1140,295h7v63h-7z M1148,326h7v40h-7z M1157,346h7v28h-7z M1165,359h7v44h-7z M1173,380h7v150h-7z M1182,455h7v84h-7z M1190,496h7v47h-7z M1198,519h7v50h-7z M1207,543h7v75h-7z M1215,580h7v26h-7z M1232,586h7v15h-7z M1257,548h7v26h-7z M1265,561h7v98h-7z M1274,609h7v94h-7z M1282,656h7v56h-7z M1341,559h7v8h-7z M1374,548h7v19h-7z M1383,557h7v40h-7z M1391,576h7v47h-7z M1399,600h7v9h-7z M1466,528h7v21h-7z M1475,538h7v41h-7z M1483,558h7v7h-7z M1491,561h7v19h-7z M1500,570h7v51h-7z M1508,595h7v50h-7z M1516,620h7v38h-7z M1525,638h7v36h-7z M1533,656h7v29h-7z M1592,595h7v22h-7z M1600,605h7v32h-7z M1609,621h7v57h-7z M1617,649h7v53h-7z M1625,675h7v56h-7z M1634,703h7v64h-7z M1642,734h7v47h-7z M1650,757h7v64h-7z M1667,787h7v2h-7z M1793,541h7v5h-7z M1801,543h7v9h-7z M1843,538h7v14h-7z M1868,529h7v10h-7z M1876,533h7v4h-7z M1935,422h7v3h-7z M1952,421h7v6h-7z M1960,424h7v5h-7z M1968,426h7v8h-7z M2002,410h7v3h-7z M2019,411h7v8h-7z M2027,414h7v4h-7z" fill="#ef5350"/>
<path d="M0,417.5H2475" stroke="#ef5350" stroke-width="1" stroke-dasharray="1 2"/>
<path d="M917.5,0V1358" stroke="#758696" stroke-width="1" stroke-dasharray="5 6" stroke-dashoffset="-1"/>
<path d="M0,560.5H2475" stroke="#758696" stroke-width="1" stroke-dasharray="5 6"/>
</g>
<rect x="0" y="0" width="2560" height="1" fill="#e0e3eb"/>
<rect x="2475" y="0" width="85" height="1440" fill="#fff"/>
<rect x="0" y="1358" width="2560" height="82" fill="#fff"/>
<path d="M2475.5,0V1393" stroke="#e0e1e7" stroke-width="1"/>
<path d="M0,1358.5H2560" stroke="#e0e1e7" stroke-width="1"/>
<text x="2488.0" y="22.1" font-size="13.8" fill="#131722" font-weight="normal" textLength="44.2" lengthAdjust="spacingAndGlyphs" >102.50</text>
<text x="2488.0" y="65.1" font-size="13.8" fill="#131722" font-weight="normal" textLength="44.2" lengthAdjust="spacingAndGlyphs" >100.00</text>
<text x="2488.0" y="107.1" font-size="13.8" fill="#131722" font-weight="normal" textLength="36.1" lengthAdjust="spacingAndGlyphs" >97.50</text>
<text x="2488.0" y="150.1" font-size="13.8" fill="#131722" font-weight="normal" textLength="36.1" lengthAdjust="spacingAndGlyphs" >95.00</text>
<text x="2488.0" y="193.1" font-size="13.8" fill="#131722" font-weight="normal" textLength="36.1" lengthAdjust="spacingAndGlyphs" >92.50</text>
<text x="2488.0" y="235.1" font-size="13.8" fill="#131722" font-weight="normal" textLength="36.1" lengthAdjust="spacingAndGlyphs" >90.00</text>
<text x="2488.0" y="278.1" font-size="13.8" fill="#131722" font-weight="normal" textLength="36.1" lengthAdjust="spacingAndGlyphs" >87.50</text>
<text x="2488.0" y="321.1" font-size="13.8" fill="#131722" font-weight="normal" textLength="36.1" lengthAdjust="spacingAndGlyphs" >85.00</text>
<text x="2488.0" y="364.1" font-size="13.8" fill="#131722" font-weight="normal" textLength="36.1" lengthAdjust="spacingAndGlyphs" >82.50</text>
<text x="2488.0" y="406.1" font-size="13.8" fill="#131722" font-weight="normal" textLength="36.1" lengthAdjust="spacingAndGlyphs" >80.00</text>
<text x="2488.0" y="449.1" font-size="13.8" fill="#131722" font-weight="normal" textLength="36.1" lengthAdjust="spacingAndGlyphs" >77.50</text>
<text x="2488.0" y="492.1" font-size="13.8" fill="#131722" font-weight="normal" textLength="36.1" lengthAdjust="spacingAndGlyphs" >75.00</text>
<text x="2488.0" y="534.1" font-size="13.8" fill="#131722" font-weight="normal" textLength="36.1" lengthAdjust="spacingAndGlyphs" >72.50</text>
<text x="2488.0" y="577.1" font-size="13.8" fill="#131722" font-weight="normal" textLength="36.1" lengthAdjust="spacingAndGlyphs" >70.00</text>
<text x="2488.0" y="620.1" font-size="13.8" fill="#131722" font-weight="normal" textLength="36.1" lengthAdjust="spacingAndGlyphs" >67.50</text>
<text x="2488.0" y="662.1" font-size="13.8" fill="#131722" font-weight="normal" textLength="36.1" lengthAdjust="spacingAndGlyphs" >65.00</text>
<text x="2488.0" y="705.1" font-size="13.8" fill="#131722" font-weight="normal" textLength="36.1" lengthAdjust="spacingAndGlyphs" >62.50</text>
<text x="2488.0" y="748.1" font-size="13.8" fill="#131722" font-weight="normal" textLength="36.1" lengthAdjust="spacingAndGlyphs" >60.00</text>
<text x="2488.0" y="790.1" font-size="13.8" fill="#131722" font-weight="normal" textLength="36.1" lengthAdjust="spacingAndGlyphs" >57.50</text>
<text x="2488.0" y="833.1" font-size="13.8" fill="#131722" font-weight="normal" textLength="36.1" lengthAdjust="spacingAndGlyphs" >55.00</text>
<text x="2488.0" y="876.1" font-size="13.8" fill="#131722" font-weight="normal" textLength="36.1" lengthAdjust="spacingAndGlyphs" >52.50</text>
<text x="2488.0" y="918.1" font-size="13.8" fill="#131722" font-weight="normal" textLength="36.1" lengthAdjust="spacingAndGlyphs" >50.00</text>
<text x="2488.0" y="961.1" font-size="13.8" fill="#131722" font-weight="normal" textLength="36.1" lengthAdjust="spacingAndGlyphs" >47.50</text>
<text x="2488.0" y="1004.1" font-size="13.8" fill="#131722" font-weight="normal" textLength="36.1" lengthAdjust="spacingAndGlyphs" >45.00</text>
<text x="2488.0" y="1046.1" font-size="13.8" fill="#131722" font-weight="normal" textLength="36.1" lengthAdjust="spacingAndGlyphs" >42.50</text>
<text x="2488.0" y="1089.1" font-size="13.8" fill="#131722" font-weight="normal" textLength="36.1" lengthAdjust="spacingAndGlyphs" >40.00</text>
<text x="2488.0" y="1132.1" font-size="13.8" fill="#131722" font-weight="normal" textLength="36.1" lengthAdjust="spacingAndGlyphs" >37.50</text>
<text x="2488.0" y="1174.1" font-size="13.8" fill="#131722" font-weight="normal" textLength="36.1" lengthAdjust="spacingAndGlyphs" >35.00</text>
<text x="2488.0" y="1217.1" font-size="13.8" fill="#131722" font-weight="normal" textLength="36.1" lengthAdjust="spacingAndGlyphs" >32.50</text>
<text x="2488.0" y="1260.1" font-size="13.8" fill="#131722" font-weight="normal" textLength="36.1" lengthAdjust="spacingAndGlyphs" >30.00</text>
<text x="2488.0" y="1302.1" font-size="13.8" fill="#131722" font-weight="normal" textLength="36.1" lengthAdjust="spacingAndGlyphs" >27.50</text>
<text x="2488.0" y="1345.1" font-size="13.8" fill="#131722" font-weight="normal" textLength="36.1" lengthAdjust="spacingAndGlyphs" >25.00</text>
<path d="M2476,17.5h5 M2476,60.5h5 M2476,102.5h5 M2476,145.5h5 M2476,188.5h5 M2476,230.5h5 M2476,273.5h5 M2476,316.5h5 M2476,359.5h5 M2476,401.5h5 M2476,444.5h5 M2476,487.5h5 M2476,529.5h5 M2476,572.5h5 M2476,615.5h5 M2476,657.5h5 M2476,700.5h5 M2476,743.5h5 M2476,785.5h5 M2476,828.5h5 M2476,871.5h5 M2476,913.5h5 M2476,956.5h5 M2476,999.5h5 M2476,1041.5h5 M2476,1084.5h5 M2476,1127.5h5 M2476,1169.5h5 M2476,1212.5h5 M2476,1255.5h5 M2476,1297.5h5 M2476,1340.5h5" stroke="#e0e1e7" stroke-width="1"/>
<rect x="2493.5" y="9.5" width="48" height="24" rx="4" fill="#fff" stroke="#d1d4dc"/>
<text x="2500.0" y="26.4" font-size="14" fill="#131722" font-weight="normal" textLength="25.7" lengthAdjust="spacingAndGlyphs" >EUR</text>
<path d="M2530.6,20.3l3.1,3.1l3.1,-3.1" fill="none" stroke="#131722" stroke-width="1.6"/>
<path d="M2475,387.6h55.7a2,2 0 0 1 2,2v17.6h-57.7z" fill="#ef5350"/>
<path d="M2475,407.1h76.8a2,2 0 0 1 2,2v34.5a2,2 0 0 1 -2,2h-76.8z" fill="#ef5350"/>
<path d="M2420,407.1h53.9v20.6h-53.9a2,2 0 0 1 -2,-2v-16.6a2,2 0 0 1 2,-2z" fill="#ef5350"/>
<path d="M2475,396.5h6M2475,417.5h6" stroke="#fff" stroke-opacity="0.8" stroke-width="1"/>
<text x="2488.5" y="402.0" font-size="15.2" fill="#fff" font-weight="normal" textLength="35.9" lengthAdjust="spacingAndGlyphs" stroke="#fff" stroke-width="0.55">79.15</text>
<text x="2488.5" y="423.1" font-size="15.2" fill="#fff" font-weight="normal" textLength="36.3" lengthAdjust="spacingAndGlyphs" stroke="#fff" stroke-width="0.55">79.10</text>
<text x="2488.2" y="440.9" font-size="15.0" fill="#fff" font-weight="normal" textLength="57.7" lengthAdjust="spacingAndGlyphs" fill-opacity="0.85" stroke="#fff" stroke-opacity="0.85" stroke-width="0.25">07:12:58</text>
<text x="2423.8" y="422.8" font-size="14.6" fill="#fff" font-weight="normal" textLength="41.9" lengthAdjust="spacingAndGlyphs" stroke="#fff" stroke-width="0.35">ALFEN</text>
<path d="M2475.3,547.2h55.7a2,2 0 0 1 2,2v22.6a2,2 0 0 1 -2,2h-55.7z" fill="#131722"/>
<path d="M2449,547.2h24.9v26.6h-24.9a2,2 0 0 1 -2,-2v-22.6a2,2 0 0 1 2,-2z" fill="#131722"/>
<path d="M2475,560.5h6" stroke="#fff" stroke-width="1"/>
<text x="2488.5" y="566.0" font-size="15.2" fill="#fff" font-weight="normal" textLength="36.3" lengthAdjust="spacingAndGlyphs" stroke="#fff" stroke-width="0.55">70.70</text>
<circle cx="2460.5" cy="560.5" r="9.9" fill="none" stroke="#fff" stroke-opacity="0.85" stroke-width="1.1"/>
<path d="M2455.8,560.5h9.4M2460.5,555.8v9.4" stroke="#fff" stroke-width="1.5"/>
<text x="-5.9" y="1381.0" font-size="14.6" fill="#131722" font-weight="normal" textLength="22.7" lengthAdjust="spacingAndGlyphs" >Aug</text>
<text x="168.7" y="1381.0" font-size="14.6" fill="#131722" font-weight="normal" textLength="23.2" lengthAdjust="spacingAndGlyphs" >Sep</text>
<text x="353.9" y="1381.0" font-size="14.6" fill="#131722" font-weight="normal" textLength="22.7" lengthAdjust="spacingAndGlyphs" >Okt</text>
<text x="537.4" y="1381.0" font-size="14.6" fill="#131722" font-weight="normal" textLength="23.8" lengthAdjust="spacingAndGlyphs" >Nov</text>
<text x="712.8" y="1381.0" font-size="14.6" fill="#131722" font-weight="normal" textLength="23.9" lengthAdjust="spacingAndGlyphs" >Dez</text>
<text x="1064.2" y="1381.0" font-size="14.6" fill="#131722" font-weight="normal" textLength="23.5" lengthAdjust="spacingAndGlyphs" >Feb</text>
<text x="1232.1" y="1381.0" font-size="14.6" fill="#131722" font-weight="normal" textLength="22.7" lengthAdjust="spacingAndGlyphs" >Mrz</text>
<text x="1425.0" y="1381.0" font-size="14.6" fill="#131722" font-weight="normal" textLength="22.5" lengthAdjust="spacingAndGlyphs" >Apr</text>
<text x="1591.8" y="1381.0" font-size="14.6" fill="#131722" font-weight="normal" textLength="23.5" lengthAdjust="spacingAndGlyphs" >Mai</text>
<text x="1768.0" y="1381.0" font-size="14.6" fill="#131722" font-weight="normal" textLength="22.5" lengthAdjust="spacingAndGlyphs" >Jun</text>
<text x="1954.2" y="1381.0" font-size="14.6" fill="#131722" font-weight="normal" textLength="18.5" lengthAdjust="spacingAndGlyphs" >Jul</text>
<text x="2135.6" y="1381.0" font-size="14.6" fill="#131722" font-weight="normal" textLength="23.7" lengthAdjust="spacingAndGlyphs" >Aug</text>
<text x="2319.7" y="1381.0" font-size="14.6" fill="#131722" font-weight="normal" textLength="23.2" lengthAdjust="spacingAndGlyphs" >Sep</text>
<path d="M5.5,1359v5 M180.5,1359v5 M365.5,1359v5 M549.5,1359v5 M724.5,1359v5 M1076.5,1359v5 M1243.5,1359v5 M1436.5,1359v5 M1603.5,1359v5 M1779.5,1359v5 M1963.5,1359v5 M2147.5,1359v5 M2331.5,1359v5" stroke="#e0e1e7" stroke-width="1"/>
<path d="M873,1358h89v28a2,2 0 0 1 -2,2h-85a2,2 0 0 1 -2,-2z" fill="#131722"/>
<path d="M917.5,1358v6" stroke="#fff" stroke-width="1"/>
<text x="884.4" y="1381.0" font-size="15" fill="#fff" font-weight="bold" textLength="65.2" lengthAdjust="spacingAndGlyphs" >05 Jan '21</text>
<circle cx="2517.6" cy="1375.8" r="6.6" fill="none" stroke="#131722" stroke-width="1.5"/>
<path d="M2524.80,1375.80L2527.20,1375.80 M2522.69,1380.89L2524.39,1382.59 M2517.60,1383.00L2517.60,1385.40 M2512.51,1380.89L2510.81,1382.59 M2510.40,1375.80L2508.00,1375.80 M2512.51,1370.71L2510.81,1369.01 M2517.60,1368.60L2517.60,1366.20 M2522.69,1370.71L2524.39,1369.01" stroke="#131722" stroke-width="1.8"/>
<text x="21.3" y="1421.6" font-size="17" fill="#131722" font-weight="normal" textLength="18.9" lengthAdjust="spacingAndGlyphs" >1D</text>
<text x="58.2" y="1421.6" font-size="17" fill="#131722" font-weight="normal" textLength="18.9" lengthAdjust="spacingAndGlyphs" >5D</text>
<text x="95.7" y="1421.6" font-size="17" fill="#131722" font-weight="normal" textLength="21.1" lengthAdjust="spacingAndGlyphs" >1M</text>
<text x="134.5" y="1421.6" font-size="17" fill="#131722" font-weight="normal" textLength="21.4" lengthAdjust="spacingAndGlyphs" >3M</text>
<text x="173.1" y="1421.6" font-size="17" fill="#131722" font-weight="normal" textLength="21.9" lengthAdjust="spacingAndGlyphs" >6M</text>
<text x="212.7" y="1421.6" font-size="17" fill="#131722" font-weight="normal" textLength="30.1" lengthAdjust="spacingAndGlyphs" >YTD</text>
<text x="261.1" y="1421.6" font-size="17" fill="#131722" font-weight="normal" textLength="18.4" lengthAdjust="spacingAndGlyphs" >1Y</text>
<text x="298.0" y="1421.6" font-size="17" fill="#131722" font-weight="normal" textLength="17.8" lengthAdjust="spacingAndGlyphs" >5Y</text>
<text x="334.2" y="1421.6" font-size="17" fill="#131722" font-weight="normal" textLength="30.0" lengthAdjust="spacingAndGlyphs" >Alle</text>
<path d="M384.5,1403v27M2361.5,1403v27" stroke="#e0e1e7" stroke-width="1"/>
<g fill="none" stroke="#131722" stroke-width="1.4" stroke-linecap="round" stroke-linejoin="round"><path d="M406.5,1414.5v-4a2,2 0 0 1 2,-2h15.5a2,2 0 0 1 2,2v12.5a2,2 0 0 1 -2,2h-7.5"/><path d="M406.5,1412.5h19.5M411.5,1406.5v3.5M421,1406.5v3.5"/><path d="M405.5,1420h10.5M412.5,1416.5l3.5,3.5l-3.5,3.5"/></g>
<text x="2205.0" y="1421.6" font-size="17" fill="#131722" font-weight="normal" textLength="135.0" lengthAdjust="spacingAndGlyphs" >11:12:01 (UTC+2)</text>
<text x="2382.3" y="1421.6" font-size="17" fill="#131722" font-weight="normal" textLength="34.2" lengthAdjust="spacingAndGlyphs" >Anp.</text>
<text x="2435.6" y="1421.6" font-size="17" fill="#131722" font-weight="normal" textLength="16.4" lengthAdjust="spacingAndGlyphs" >%</text>
<text x="2471.2" y="1421.6" font-size="17" fill="#131722" font-weight="normal" textLength="21.8" lengthAdjust="spacingAndGlyphs" >log</text>
<text x="2512.2" y="1421.6" font-size="17" fill="#2962ff" font-weight="normal" textLength="34.2" lengthAdjust="spacingAndGlyphs" >auto</text>
<rect x="137" y="1331" width="21" height="21" rx="2.5" fill="#fff" stroke="#4a4e59" stroke-width="2"/>
<text x="144.1" y="1346.8" font-size="14.6" fill="#4a4e59" font-weight="bold" textLength="7.0" lengthAdjust="spacingAndGlyphs" >E</text>
<rect x="1166" y="1331" width="21" height="21" rx="2.5" fill="#fff" stroke="#4a4e59" stroke-width="2"/>
<text x="1173.1" y="1346.8" font-size="14.6" fill="#4a4e59" font-weight="bold" textLength="7.0" lengthAdjust="spacingAndGlyphs" >E</text>
<rect x="2296.2" y="1331" width="21" height="21" rx="2.5" fill="#fff" stroke="#e040fb" stroke-width="2"/>
<text x="2303.3" y="1346.8" font-size="14.6" fill="#e040fb" font-weight="bold" textLength="7.0" lengthAdjust="spacingAndGlyphs" >E</text>
<circle cx="29.4" cy="1329.2" r="20.4" fill="#fff" stroke="#e6e6e6" stroke-width="1.2"/>
<g><path d="M20.6,1336a4.7,4.7 0 0 1 -0.3,-9.4a6.6,6.6 0 0 1 12.6,-2.2a4.9,4.9 0 0 1 6.6,3.4a4.2,4.2 0 0 1 -0.8,8.2z" fill="#2962ff"/><path d="M16.2,1334.6L26.4,1325.9L32.7,1333.6L40.4,1325.4" fill="none" stroke="#fff" stroke-width="1.3"/><circle cx="26.4" cy="1325.9" r="1.4" fill="#fff"/><circle cx="32.7" cy="1333.6" r="1.4" fill="#fff"/></g>
<text x="12.0" y="28.6" font-size="18.4" fill="#131722" font-weight="normal" textLength="54.4" lengthAdjust="spacingAndGlyphs" >ALFEN</text>
<text x="82.6" y="28.6" font-size="18.4" fill="#131722" font-weight="normal" textLength="22.3" lengthAdjust="spacingAndGlyphs" >1D</text>
<text x="120.9" y="28.6" font-size="18.4" fill="#131722" font-weight="normal" textLength="206.4" lengthAdjust="spacingAndGlyphs" >EURONEXT AMSTERDAM</text>
<text x="343.1" y="28.6" font-size="18.4" fill="#131722" font-weight="normal" textLength="91.1" lengthAdjust="spacingAndGlyphs" >HeikinAshi</text>
<circle cx="74.7" cy="22.6" r="1.6" fill="#b2b5be"/>
<circle cx="112.5" cy="22.6" r="1.6" fill="#b2b5be"/>
<circle cx="334.5" cy="22.6" r="1.6" fill="#b2b5be"/>
<path d="M465.5,10h13.5v23h-13.5a11.5,11.5 0 0 1 0,-23z" fill="#d6efec"/>
<path d="M479,10h13a11.5,11.5 0 0 1 0,23h-13z" fill="#feefdb"/>
<circle cx="467.8" cy="21.3" r="5" fill="#089981"/>
<text x="486.0" y="27.2" font-size="15.6" fill="#f57c00" font-weight="bold" textLength="8.8" lengthAdjust="spacingAndGlyphs" >D</text>
<text x="524.4" y="28.5" font-size="14.8" fill="#5d606b" font-weight="normal" textLength="9.6" lengthAdjust="spacingAndGlyphs" >O</text>
<text x="536.3" y="28.5" font-size="14.8" fill="#26a69a" font-weight="normal" textLength="39.4" lengthAdjust="spacingAndGlyphs" >82.85</text>
<text x="584.5" y="28.5" font-size="14.8" fill="#5d606b" font-weight="normal" textLength="9.0" lengthAdjust="spacingAndGlyphs" >H</text>
<text x="596.4" y="28.5" font-size="14.8" fill="#26a69a" font-weight="normal" textLength="38.7" lengthAdjust="spacingAndGlyphs" >91.70</text>
<text x="643.9" y="28.5" font-size="14.8" fill="#5d606b" font-weight="normal" textLength="7.0" lengthAdjust="spacingAndGlyphs" >L</text>
<text x="653.0" y="28.5" font-size="14.8" fill="#26a69a" font-weight="normal" textLength="39.2" lengthAdjust="spacingAndGlyphs" >82.85</text>
<text x="700.7" y="28.5" font-size="14.8" fill="#5d606b" font-weight="normal" textLength="8.2" lengthAdjust="spacingAndGlyphs" >C</text>
<text x="711.6" y="28.5" font-size="14.8" fill="#26a69a" font-weight="normal" textLength="39.2" lengthAdjust="spacingAndGlyphs" >88.10</text>
<text x="759.6" y="28.5" font-size="14.8" fill="#26a69a" font-weight="normal" textLength="38.1" lengthAdjust="spacingAndGlyphs" >+2.90</text>
<text x="805.3" y="28.5" font-size="14.8" fill="#26a69a" font-weight="normal" textLength="59.7" lengthAdjust="spacingAndGlyphs" >(+3.37%)</text>
<rect x="10.5" y="41.5" width="59" height="29" rx="4.5" fill="#fff" stroke="#f7525f" stroke-width="1"/>
<text x="20.2" y="61.9" font-size="15.2" fill="#f23645" font-weight="normal" textLength="39.6" lengthAdjust="spacingAndGlyphs" >79.15</text>
<text x="80.0" y="61.5" font-size="14.8" fill="#5d606b" font-weight="normal" textLength="26.7" lengthAdjust="spacingAndGlyphs" >0.00</text>
<rect x="117.5" y="41.5" width="59" height="29" rx="4.5" fill="#fff" stroke="#2962ff" stroke-width="1"/>
<text x="126.9" y="61.9" font-size="15.2" fill="#2962ff" font-weight="normal" textLength="39.2" lengthAdjust="spacingAndGlyphs" >79.15</text>
<text x="11.6" y="96.7" font-size="14.8" fill="#131722" font-weight="normal" textLength="17.4" lengthAdjust="spacingAndGlyphs" >BB</text>
<text x="35.2" y="96.7" font-size="14.8" fill="#5d606b" font-weight="normal" textLength="85.2" lengthAdjust="spacingAndGlyphs" >20 close 2 0</text>
<text x="131.0" y="96.7" font-size="14.8" fill="#872323" font-weight="normal" textLength="39.2" lengthAdjust="spacingAndGlyphs" >75.25</text>
<text x="178.4" y="96.7" font-size="14.8" fill="#00897b" font-weight="normal" textLength="39.6" lengthAdjust="spacingAndGlyphs" >86.16</text>
<text x="226.2" y="96.7" font-size="14.8" fill="#00897b" font-weight="normal" textLength="39.6" lengthAdjust="spacingAndGlyphs" >64.34</text>
</svg>
</body></html>
